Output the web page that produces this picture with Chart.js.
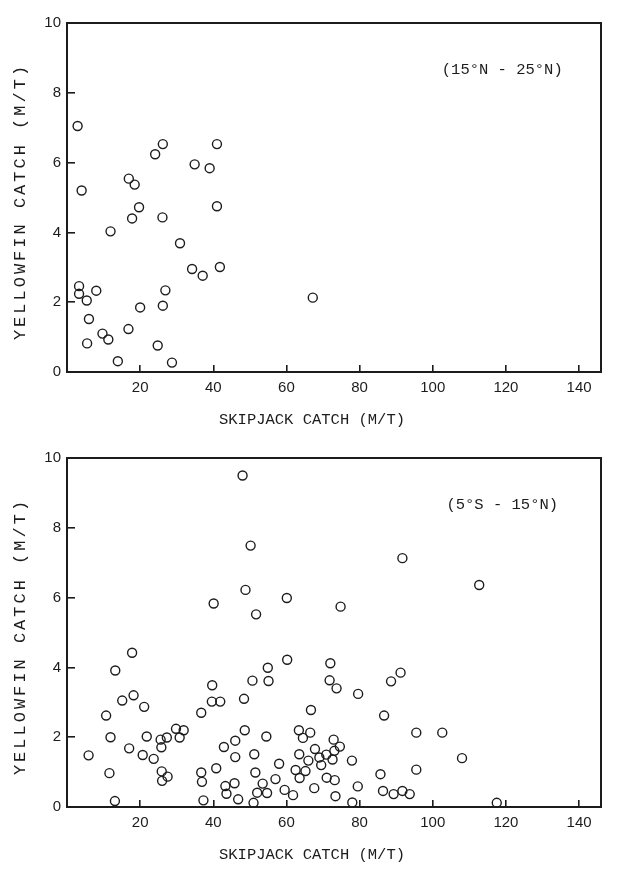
<!DOCTYPE html>
<html>
<head>
<meta charset="utf-8">
<script src="https://cdn.jsdelivr.net/npm/chart.js@4.4.1/dist/chart.umd.min.js"></script>
<style>
  html, body { margin: 0; background: #fff; }
  .panel { position: absolute; left: 0; width: 621px; height: 434px; }
</style>
</head>
<body>
<div class="panel" style="top:0"><canvas id="chartNorth"></canvas></div>
<div class="panel" style="top:435px"><canvas id="chartSouth"></canvas></div>
<script>
// skipjack vs yellowfin catch, two latitude bands

const xTicks = [20, 40, 60, 80, 100, 120, 140];
const yTicks = [0, 2, 4, 6, 8, 10];
const xTitle = 'SKIPJACK CATCH (M/T)';
const yTitle = 'YELLOWFIN CATCH (M/T)';
const regionNorth = '(15\u00B0N - 25\u00B0N)';
const regionSouth = '(5\u00B0S - 15\u00B0N)';

// 15N - 25N
const northSkipjack = [
  2.9, 4.0, 16.9, 18.5, 24.1, 26.2, 34.9, 39.0, 41.0, 19.7, 41.0, 17.8,
  26.1, 11.9, 30.9, 34.2, 41.8, 37.1, 3.3, 3.3, 8.0, 26.9, 5.4, 20.0,
  26.2, 6.0, 16.8, 9.7, 11.3, 5.5, 24.8, 13.9, 28.7, 67.2
];
const northYellowfin = [
  7.05, 5.2, 5.54, 5.37, 6.24, 6.53, 5.95, 5.84, 6.53, 4.72, 4.75, 4.40,
  4.43, 4.03, 3.69, 2.95, 3.01, 2.76, 2.46, 2.24, 2.33, 2.34, 2.05, 1.85,
  1.90, 1.52, 1.23, 1.10, 0.93, 0.82, 0.76, 0.31, 0.27, 2.13
];

// 5S - 15N
const southSkipjack = [
  48.0, 50.2, 48.8, 40.1, 51.7, 60.1, 74.8, 91.7, 112.7, 17.8, 13.2, 50.7,
  39.7, 18.2, 48.4, 15.1, 39.6, 41.9, 21.1, 36.7, 10.7, 29.8, 31.9, 48.6,
  11.9, 21.8, 27.3, 30.8, 25.6, 46.0, 25.8, 17.0, 42.9, 5.9, 20.7, 51.2,
  23.7, 46.0, 40.8, 11.6, 25.9, 36.7, 51.5, 27.5, 26.0, 36.9, 45.8, 43.3,
  43.6, 52.0, 37.3, 46.8, 13.1, 51.0, 60.2, 72.0, 54.9, 91.2, 55.1, 71.8,
  88.6, 73.7, 79.6, 66.7, 86.7, 63.4, 66.5, 64.5, 54.5, 95.5, 102.6, 72.9,
  74.6, 67.8, 73.1, 63.5, 70.9, 69.0, 72.6, 66.0, 77.9, 58.0, 69.5, 62.5,
  65.2, 95.5, 85.7, 63.6, 71.0, 73.2, 57.0, 53.5, 67.6, 79.5, 59.5, 54.7,
  61.8, 86.4, 89.3, 91.7, 93.7, 73.4, 78.0, 108.0, 117.5
];
const southYellowfin = [
  9.50, 7.49, 6.22, 5.83, 5.52, 5.99, 5.74, 7.13, 6.36, 4.42, 3.91, 3.62,
  3.49, 3.20, 3.10, 3.05, 3.02, 3.02, 2.87, 2.70, 2.62, 2.24, 2.20, 2.20,
  2.00, 2.02, 1.99, 1.99, 1.93, 1.90, 1.71, 1.68, 1.72, 1.48, 1.49, 1.51,
  1.38, 1.43, 1.11, 0.97, 1.02, 0.99, 0.99, 0.87, 0.75, 0.72, 0.68, 0.60,
  0.38, 0.41, 0.19, 0.22, 0.17, 0.12, 4.22, 4.12, 3.99, 3.85, 3.61, 3.63,
  3.60, 3.40, 3.24, 2.78, 2.62, 2.20, 2.13, 1.98, 2.02, 2.13, 2.13, 1.93,
  1.73, 1.66, 1.61, 1.51, 1.50, 1.42, 1.36, 1.33, 1.33, 1.24, 1.20, 1.06,
  1.03, 1.07, 0.94, 0.83, 0.84, 0.77, 0.80, 0.67, 0.54, 0.59, 0.49, 0.40,
  0.34, 0.46, 0.37, 0.46, 0.37, 0.31, 0.13, 1.40, 0.12
];

const INK = '#1c1c1c';
const MONO = '"Liberation Mono", "DejaVu Sans Mono", monospace';

// box frame, axis titles and region label
const panelText = {
  id: 'panelText',
  afterDraw(chart, args, opts) {
    const { ctx, chartArea, scales } = chart;
    ctx.save();
    ctx.strokeStyle = INK;
    ctx.lineWidth = 2;
    ctx.strokeRect(chartArea.left, chartArea.top,
                   chartArea.right - chartArea.left, chartArea.bottom - chartArea.top);

    ctx.fillStyle = INK;
    ctx.font = '15.5px ' + MONO;
    ctx.textAlign = 'center';
    ctx.textBaseline = 'middle';
    ctx.fillText(opts.region, scales.x.getPixelForValue(119), scales.y.getPixelForValue(8.67));
    ctx.fillText(xTitle, chartArea.left + 245, chartArea.bottom + 48);

    ctx.translate(20, (chartArea.top + chartArea.bottom) / 2 + 4);
    ctx.rotate(-Math.PI / 2);
    ctx.font = '17px ' + MONO;
    ctx.letterSpacing = '3px';
    ctx.fillText(yTitle, 0, 0);
    ctx.restore();
  }
};

function makeScatter(id, xs, ys, region) {
  const ctx = document.getElementById(id).getContext('2d');
  const points = xs.map((x, i) => ({ x, y: ys[i] }));
  return new Chart(ctx, {
    type: 'scatter',
    data: {
      datasets: [{
        data: points,
        pointStyle: 'circle',
        pointRadius: 4.5,
        pointBorderWidth: 1.4,
        borderColor: INK,
        backgroundColor: 'transparent',
        clip: false
      }]
    },
    options: {
      responsive: true,
      maintainAspectRatio: false,
      animation: false,
      layout: { padding: { top: 10, right: 20, left: 0, bottom: 0 } },
      plugins: {
        legend: { display: false },
        tooltip: { enabled: false },
        panelText: { region }
      },
      scales: {
        x: {
          type: 'linear',
          min: 0,
          max: 146,
          afterBuildTicks: s => { s.ticks = xTicks.map(v => ({ value: v })); },
          afterFit: s => { s.height = 62; },
          grid: { drawOnChartArea: false, drawTicks: true, tickLength: -7, color: INK, lineWidth: 1.6 },
          border: { display: false },
          ticks: {
            padding: 14,
            maxRotation: 0,
            color: INK,
            font: { family: '"Liberation Sans", Arial, sans-serif', size: 15 }
          }
        },
        y: {
          type: 'linear',
          min: 0,
          max: 10,
          afterBuildTicks: s => { s.ticks = yTicks.map(v => ({ value: v })); },
          afterFit: s => { s.width = 67; },
          grid: { drawOnChartArea: false, drawTicks: true, tickLength: -8, color: INK, lineWidth: 1.6 },
          border: { display: false },
          ticks: {
            padding: 14,
            color: INK,
            font: { family: '"Liberation Sans", Arial, sans-serif', size: 15 }
          }
        }
      }
    },
    plugins: [panelText]
  });
}

makeScatter('chartNorth', northSkipjack, northYellowfin, regionNorth);
makeScatter('chartSouth', southSkipjack, southYellowfin, regionSouth);
</script>
</body>
</html>
